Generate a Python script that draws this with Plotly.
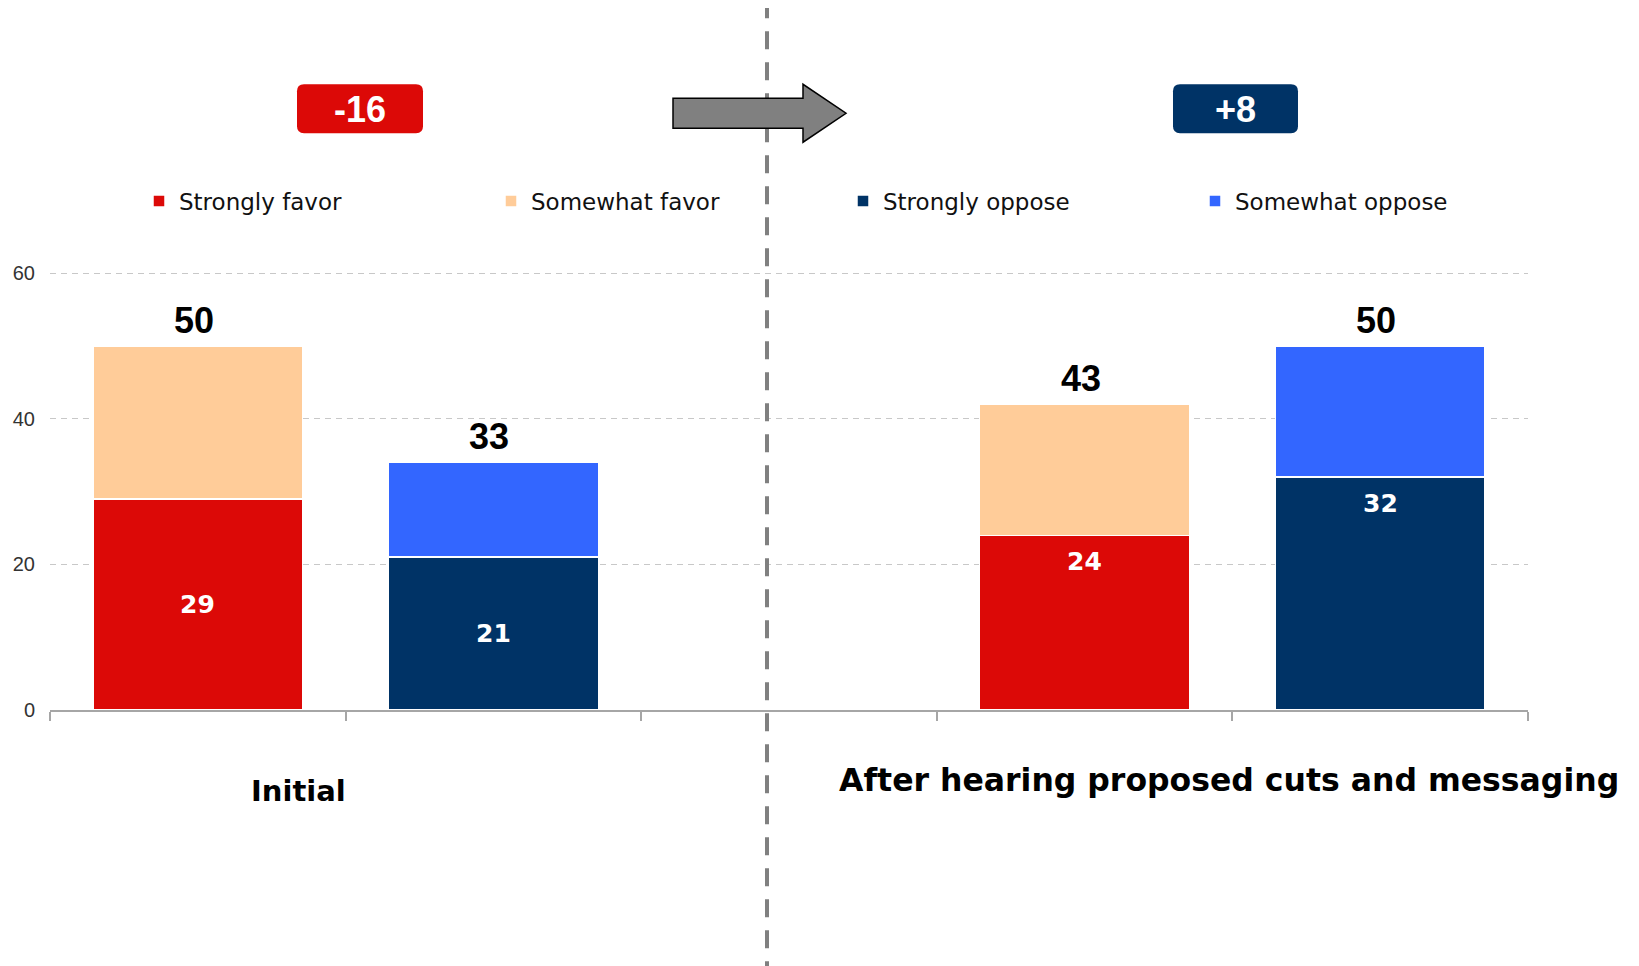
import plotly.graph_objects as go

# ---------------- data ----------------
slots = [0, 1, 2, 3, 4]                    # five category slots, slot 2 left empty
favor_pos = [0, 3]                          # Initial / After  (favor bars)
oppose_pos = [1, 4]                         # Initial / After  (oppose bars)
strongly_favor = [29, 24]
somewhat_favor = [21, 18]
strongly_oppose = [21, 32]
somewhat_oppose = [13, 18]
total_labels_favor = [50, 43]
total_labels_oppose = [33, 50]
inner_label_mode = ["center", "top"]        # Initial labels centred, After labels near top
y_ticks = [0, 20, 40, 60]
y_max = 60.3
group_labels = ["Initial", "After hearing proposed cuts and messaging"]
badges = ["-16", "+8"]

C_RED = "#DC0907"
C_PEACH = "#FFCC99"
C_NAVY = "#003366"
C_BLUE = "#3366FF"

W, H = 1639, 966
OFF = 8  # page body margin: screen = figure + 8


def s(v):
    """screen pixel -> figure pixel"""
    return v - OFF


# plot area in screen pixels (value 0 at 710, value 60 at 273)
PL, PR, PB = 50, 1528, 710
PT = PB - (PB - 273) * y_max / 60
L, R, T, B = s(PL), W - s(PR), s(PT), H - s(PB)
PW, PH = W - L - R, H - T - B


def px(x):
    return (s(x) - L) / PW


def py(y):
    return (H - B - s(y)) / PH


ARIAL = "Liberation Sans, Arial, sans-serif"
DEJAVU = "DejaVu Sans, sans-serif"

fig = go.Figure()
bar_w = 0.71
line = dict(color="white", width=1.5)
fig.add_bar(x=favor_pos, y=strongly_favor, name="Strongly favor", marker=dict(color=C_RED, line=line), width=bar_w)
fig.add_bar(x=favor_pos, y=somewhat_favor, name="Somewhat favor", marker=dict(color=C_PEACH, line=line), width=bar_w)
fig.add_bar(x=oppose_pos, y=strongly_oppose, name="Strongly oppose", marker=dict(color=C_NAVY, line=line), width=bar_w)
fig.add_bar(x=oppose_pos, y=somewhat_oppose, name="Somewhat oppose", marker=dict(color=C_BLUE, line=line), width=bar_w)

annotations = []
# totals above bars
for xs, a, b, labs in [(favor_pos, strongly_favor, somewhat_favor, total_labels_favor),
                       (oppose_pos, strongly_oppose, somewhat_oppose, total_labels_oppose)]:
    for i, x in enumerate(xs):
        annotations.append(dict(x=x, y=a[i] + b[i], xref="x", yref="y", text=str(labs[i]),
                                showarrow=False, yanchor="bottom", yshift=3, xshift=-4,
                                font=dict(family=ARIAL, size=36, color="black", weight="bold")))
        # inner label of bottom segment
        if inner_label_mode[i] == "center":
            yy, anchor, shift = a[i] / 2, "middle", 0
        else:
            yy, anchor, shift = a[i], "top", -10
        annotations.append(dict(x=x, y=yy, xref="x", yref="y", text=str(a[i]),
                                showarrow=False, yanchor=anchor, yshift=shift,
                                font=dict(family=DEJAVU, size=25, color="white", weight="bold")))

# group labels
annotations.append(dict(x=px(298), y=py(791), xref="paper", yref="paper", text=group_labels[0],
                        showarrow=False, xanchor="center", yanchor="middle",
                        font=dict(family=DEJAVU, size=29, color="black", weight="bold")))
annotations.append(dict(x=px(1229), y=py(780), xref="paper", yref="paper", text=group_labels[1],
                        showarrow=False, xanchor="center", yanchor="middle",
                        font=dict(family=DEJAVU, size=31.5, color="black", weight="bold")))

shapes = []
# vertical dashed divider
shapes.append(dict(type="line", xref="paper", yref="paper", x0=px(767), x1=px(767),
                   y0=py(0), y1=py(H + 10), line=dict(color="#808080", width=4, dash="18px,13px"),
                   layer="above"))
# arrow
pts = [(673, 98), (803, 98), (803, 84), (846, 113), (803, 142), (803, 128), (673, 128)]
path = "M" + " L".join(f"{px(a):.5f},{py(b):.5f}" for a, b in pts) + " Z"
shapes.append(dict(type="path", xref="paper", yref="paper", path=path,
                   fillcolor="#808080", line=dict(color="black", width=1.5), layer="above"))


def rounded(x0, y0, x1, y1, r):
    p = [f"M{px(x0 + r):.5f},{py(y0):.5f}",
         f"L{px(x1 - r):.5f},{py(y0):.5f}",
         f"Q{px(x1):.5f},{py(y0):.5f} {px(x1):.5f},{py(y0 + r):.5f}",
         f"L{px(x1):.5f},{py(y1 - r):.5f}",
         f"Q{px(x1):.5f},{py(y1):.5f} {px(x1 - r):.5f},{py(y1):.5f}",
         f"L{px(x0 + r):.5f},{py(y1):.5f}",
         f"Q{px(x0):.5f},{py(y1):.5f} {px(x0):.5f},{py(y1 - r):.5f}",
         f"L{px(x0):.5f},{py(y0 + r):.5f}",
         f"Q{px(x0):.5f},{py(y0):.5f} {px(x0 + r):.5f},{py(y0):.5f} Z"]
    return " ".join(p)


for (x0, x1), col, txt in [((297, 423), C_RED, badges[0]), ((1173, 1298), C_NAVY, badges[1])]:
    shapes.append(dict(type="path", xref="paper", yref="paper", path=rounded(x0, 84, x1, 133, 7),
                       fillcolor=col, line=dict(width=0), layer="above"))
    annotations.append(dict(x=px((x0 + x1) / 2), y=py(109), xref="paper", yref="paper", text=txt,
                            showarrow=False, xanchor="center", yanchor="middle",
                            font=dict(family=ARIAL, size=36, color="white", weight="bold")))

fig.update_layout(
    width=W, height=H,
    margin=dict(l=L, r=R, t=T, b=B, autoexpand=False),
    paper_bgcolor="white", plot_bgcolor="white",
    barmode="stack",
    showlegend=True,
    legend=dict(orientation="h", xref="container", yref="container",
                x=s(179 - 40) / W, xanchor="left", y=1 - s(201) / H, yanchor="middle",
                entrywidth=307, entrywidthmode="pixels", traceorder="normal",
                font=dict(family=DEJAVU, size=23, color="#111111"),
                bgcolor="rgba(0,0,0,0)", borderwidth=0),
    xaxis=dict(range=[-0.5, 4.5], tickvals=[v - 0.5 for v in slots] + [4.5], showticklabels=False,
               ticks="outside", ticklen=9, tickcolor="#A6A6A6", tickwidth=1.5,
               showline=True, linecolor="#A6A6A6", linewidth=2, showgrid=False, zeroline=False,
               fixedrange=True),
    yaxis=dict(range=[0, y_max], tickvals=y_ticks, showgrid=True, gridcolor="#C8C8C8",
               griddash="6px,5px", gridwidth=1.3, zeroline=False, showline=False, ticks="",
               ticklabelstandoff=14,
               tickfont=dict(family=ARIAL, size=20, color="#333333"), fixedrange=True),
    annotations=annotations,
    shapes=shapes,
    font=dict(family=ARIAL),
)

fig.write_html("out.html")
